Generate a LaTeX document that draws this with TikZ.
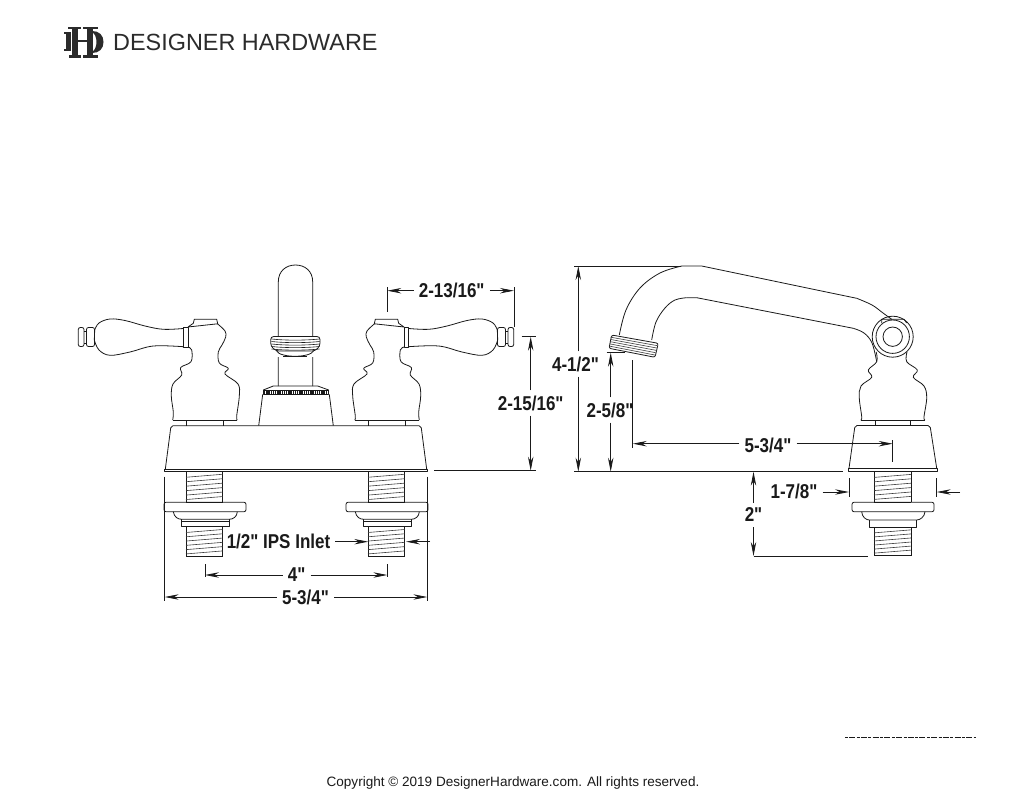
\documentclass[tikz,border=0pt]{standalone}
\usepackage{fontspec}
\setmainfont[Ligatures=TeXOff]{Liberation Sans}
\newfontfamily\dimfont[FakeStretch=0.85, Ligatures=TeXOff]{Liberation Sans}
\usepackage{tikz}
\usetikzlibrary{arrows.meta}

\definecolor{inkdark}{HTML}{1A1A1A}
\definecolor{logoink}{HTML}{2B2B2B}

\tikzset{
	partline/.style={draw=inkdark, line width=0.8pt, line join=round},
	threadline/.style={draw=inkdark!85, line width=0.6pt},
	dimlabel/.style={font=\fontsize{20}{22}\dimfont\bfseries, inner sep=0pt, text=inkdark}
}

% left and right pull handle, drawn where the left one stands
\newcommand{\leverhandle}{
	\draw [partline] plot [smooth, tension=0.6] coordinates {(217.7,324) (225,331) (225.7,337) (222,345) (218.3,352) (219.3,363) (228.3,368.3) (225,374) (238,384) (239.3,396) (236.7,416) (237.3,420)};
	\draw [partline] plot [smooth, tension=0.6] coordinates {(172.7,420) (173.3,412) (171.3,396) (173,384) (181.7,375) (180.7,367.5) (191,361.7) (191.7,350) (188,347)};
	\draw [partline] (188,327) -- (193.3,323.3) -- (194.3,319.3) -- (216.7,319.3) -- (217.7,323.8) -- cycle;
	\draw [partline] (172.7,420) -- (237.3,420);
	\draw [partline] (186.7,420) -- (186.7,425.7) (223.3,420) -- (223.3,425.7);
	\draw [partline] (183.3,327) rectangle (188,347.3);
	\draw [partline] plot [smooth, tension=0.6] coordinates {(183.3,328.5) (163.3,329.3) (145,326) (125,320.5) (110,319) (99,323) (94.7,330)};
	\draw [partline] plot [smooth, tension=0.6] coordinates {(94.3,340) (99,350) (110,355.3) (130,352) (153.3,346) (183.3,346.7)};
	\draw [partline] (94.7,330) -- (94.3,340);
	\draw [partline, rounded corners=2pt] (86.5,327.5) rectangle (94.5,346.5);
	\draw [partline, rounded corners=2pt] (78.3,327.5) rectangle (84,346.5);
	\draw [partline] (84,331) -- (86.5,331) (84,343) -- (86.5,343);
}

% threaded shank: left, top, right, bottom
\newcommand{\threadbox}[4]{
	\draw [partline] (#1,#2) -- (#1,#4) (#3,#2) -- (#3,#4) (#1,#2) -- (#3,#2) (#1,#4) -- (#3,#4);
	\pgfmathsetmacro{\threadgap}{(#4-#2)/7}
	\foreach \k in {1,...,6}
		\draw [threadline] (#1,{#2+\k*\threadgap+1.5}) -- (#3,{#2+\k*\threadgap-1.5});
}

% flange and lower shank under the deck
\newcommand{\inletset}[1]{
	\begin{scope}[xshift=#1pt]
		\threadbox{186}{471.3}{222.7}{502.5}
		\threadbox{186}{526.7}{222.7}{556.7}
		\draw [partline, rounded corners=2pt] (164,502.3) rectangle (246,511.7);
		\draw [partline] (173.3,511.7) .. controls (174,517) and (178,519.3) .. (181.7,519.3) -- (229,519.3) .. controls (233,519.3) and (237,517) .. (237.3,511.7);
		\draw [partline] (181.7,519.3) -- (181.7,526.7) -- (229,526.7) -- (229,519.3);
		\draw [partline] (181.7,521.8) -- (229,521.8);
	\end{scope}
}

\begin{document}
\begin{tikzpicture}[x=1pt, y=-1pt]
	\fill [white] (0,0) rectangle (1024,791);
	\useasboundingbox (0,0) rectangle (1024,791);

	% logo
	\begin{scope}[fill=logoink]
		\fill (72,27.5) rectangle (77.5,56.5);
		\fill (87,27.5) rectangle (92.5,56.5);
		\fill (68,27) rectangle (81,29.4);
		\fill (83,27) rectangle (98,29.4);
		\fill (68.5,55.3) rectangle (81,57.7);
		\fill (83,55.3) rectangle (98,57.7);
		\fill (72,39.8) rectangle (92,42.4);
		\fill (65.5,33) rectangle (70.5,50.5);
		\fill (64,32) rectangle (71,33.8);
		\fill (64,49.5) rectangle (71,51.2);
		\fill (92,31) .. controls (99,31) and (103.5,35) .. (103.5,42) .. controls (103.5,49) and (99,53) .. (92,53) -- (92,51.5) .. controls (94.5,51) and (96.5,47) .. (96.5,42) .. controls (96.5,37) and (94.5,33) .. (92,32.5) -- cycle;
	\end{scope}
	\node [anchor=west, inner sep=0pt, text=logoink, font=\fontsize{23.4}{25}\selectfont] (Brand) at (113,42.5) {DESIGNER HARDWARE};

	% front view
	\leverhandle
	\begin{scope}[xshift=592pt, xscale=-1]
		\leverhandle
	\end{scope}
	\draw [partline] (278.3,386) -- (278.3,282) .. controls (278.3,271) and (286,265) .. (295.5,265) .. controls (305,265) and (312.7,271) .. (312.7,282) -- (312.7,386);
	\fill [white] (271,335.5) rectangle (320,357);
	\draw [partline, rounded corners=3pt] (270.7,336.5) -- (270.7,346) -- (276,351) -- (315,351) -- (320,346) -- (320,336.5) -- cycle;
	\foreach \ringy in {339,341.5,344,346.5,349}
		\draw [partline, line width=0.6pt] (271.5,\ringy) .. controls (285,\ringy+1.5) and (305,\ringy+1.5) .. (319.5,\ringy);
	\draw [partline] (276.7,351) .. controls (280,358) and (310,358) .. (313.5,351);
	\draw [partline, line width=1.4pt] (283,356.7) -- (307,356.7);
	\draw [partline] (273.3,386) -- (317.7,386) (273.3,386) -- (263.3,390) (317.7,386) -- (328.7,390);
	\draw [partline] (263.3,390) rectangle (328.7,394.3);
	\draw [inkdark, line width=3.4pt, dash pattern=on 1.3pt off 0.9pt] (264,392.1) -- (328,392.1);
	\draw [partline] (262.7,394.3) -- (258.7,425.7);
	\draw [partline] (329.3,394.3) -- (333.3,425.7);
	\draw [partline, rounded corners=2pt] (165.3,469.3) -- (171,425.7) -- (421,425.7) -- (426.7,469.3);
	\draw [partline] (164.7,469.3) rectangle (427.3,471.3);
	\inletset{0}
	\inletset{182}

	% side view
	\draw [partline] plot [smooth, tension=0.6] coordinates {(619.3,335) (626,310) (640,288) (660,273) (681.7,266)};
	\draw [partline] (681.7,266) -- (701.7,266) -- (816.7,290) -- (856.7,298.3);
	\draw [partline] plot [smooth, tension=0.6] coordinates {(856.7,298.3) (872,305) (883,313) (891.7,319.3)};
	\draw [partline] plot [smooth, tension=0.6] coordinates {(651.7,340) (656,322) (665,308) (675,300) (686.7,297.7)};
	\draw [partline] (686.7,297.7) -- (696.7,297.7) -- (853.3,328.3);
	\draw [partline] plot [smooth, tension=0.6] coordinates {(853.3,328.3) (864,333) (872,343) (876.7,361.7)};
	\draw [partline, rounded corners=2pt] (611.7,335) -- (658.3,343.3) -- (655,357.3) -- (609,348.3) -- cycle;
	\foreach \aeratorstep in {1,2,3,4,5}
		\draw [threadline] ({611.2-0.45*\aeratorstep},{335+2.2*\aeratorstep}) -- ({657.8-0.55*\aeratorstep},{343.3+2.35*\aeratorstep});
	\draw [partline] (892.7,336.7) circle (9.7);
	\draw [partline] (892.7,336.7) circle (16.7);
	\draw [partline] (892.7,336.7) circle (20.5);
	\draw [partline] (881.7,323) -- (881.7,319.3) -- (904,319.3) -- (906.7,323);
	\draw [partline] plot [smooth, tension=0.6] coordinates {(876.2,352) (876.7,361.7) (868.3,370) (871.7,377.3) (861,386) (859.3,398) (861.7,416.7) (860.7,420)};
	\draw [partline] plot [smooth, tension=0.6] coordinates {(907,352) (906.7,361.7) (917.3,370) (913.3,377.3) (924,386) (926.7,398) (924,416.7) (925,420)};
	\draw [partline] (860.7,420) -- (925,420);
	\draw [partline] (875.7,420) -- (875.7,425.5) (910.7,420) -- (910.7,425.5);
	\draw [partline, rounded corners=2pt] (849,468.3) -- (855,425.5) -- (930,425.5) -- (936.7,468.3);
	\draw [partline] (848.7,468.3) rectangle (936.9,471.5);
	\threadbox{874}{471.5}{911}{502.3}
	\threadbox{874}{527.3}{911}{555.7}
	\draw [partline, rounded corners=2pt] (852,502.3) rectangle (934,511.7);
	\draw [partline] (861.7,511.7) .. controls (862,517) and (866,520) .. (869.3,520) -- (916.7,520) .. controls (920,520) and (924.5,517) .. (925,511.7);
	\draw [partline] (869.3,520) -- (869.3,527.3) -- (916,527.3) -- (916,520);

	% dimensions
	\node [dimlabel] (SpanHandle) at (451.7,290.7) {2-13/16"};
	\node [dimlabel] (HighFront) at (530.7,403) {2-15/16"};
	\node [dimlabel] (Inlet) at (278.5,541.7) {1/2" IPS Inlet};
	\node [dimlabel] (Centers) at (296.7,575) {4"};
	\node [dimlabel] (WidthFront) at (305.5,597) {5-3/4"};
	\node [dimlabel] (HighSide) at (575.5,364) {4-1/2"};
	\node [dimlabel] (Clear) at (610,410) {2-5/8"};
	\node [dimlabel] (Reach) at (768,445) {5-3/4"};
	\node [dimlabel] (DeckBase) at (794,491) {1-7/8"};
	\node [dimlabel] (Shank) at (753.5,515) {2"};

	\coordinate (SpanL) at (387.3,290.7);
	\coordinate (SpanR) at (514,290.7);
	\coordinate (FrontT) at (530.7,336.7);
	\coordinate (FrontB) at (530.7,470.7);
	\coordinate (InletL) at (368.3,541.7);
	\coordinate (InletR) at (406,541.7);
	\coordinate (InletEnd) at (435,541.7);
	\coordinate (CentersL) at (205,575);
	\coordinate (CentersR) at (387.3,575);
	\coordinate (WidthL) at (164.7,597);
	\coordinate (WidthR) at (427.3,597);
	\coordinate (SideT) at (578.3,266);
	\coordinate (SideB) at (578.3,471.7);
	\coordinate (ClearT) at (610.7,352.7);
	\coordinate (ClearB) at (610.7,471.7);
	\coordinate (ReachL) at (632.7,443.7);
	\coordinate (ReachR) at (892.7,443.7);
	\coordinate (BaseL) at (849,492);
	\coordinate (BaseR) at (936.7,492);
	\coordinate (BaseEnd) at (965,492);
	\coordinate (ShankT) at (753.5,471.7);
	\coordinate (ShankB) at (753.5,556);

	\begin{scope}[>={Stealth[inkdark, length=14pt, width=5.4pt]},
			every edge/.style={draw=inkdark, line width=0.8pt},
			shorten <=5pt]
		\path [->] (SpanHandle.west) edge (SpanL);
		\path [->] (SpanHandle.east) edge (SpanR);
		\path [->] (HighFront.north -| FrontT) edge (FrontT);
		\path [->] (HighFront.south -| FrontT) edge (FrontB);
		\path [->] (Inlet.east) edge (InletL);
		\path [->] (InletEnd) edge (InletR);
		\path [->] (Centers.west) edge (CentersL);
		\path [->] (Centers.east) edge (CentersR);
		\path [->] (WidthFront.west) edge (WidthL);
		\path [->] (WidthFront.east) edge (WidthR);
		\path [->] (HighSide.north -| SideT) edge (SideT);
		\path [->] (HighSide.south -| SideT) edge (SideB);
		\path [->] (Clear.north -| ClearT) edge (ClearT);
		\path [->] (Clear.south -| ClearT) edge (ClearB);
		\path [->] (Reach.west |- ReachL) edge (ReachL);
		\path [->] (Reach.east |- ReachR) edge (ReachR);
		\path [->] (DeckBase.east |- BaseL) edge (BaseL);
		\path [->] (BaseEnd) edge (BaseR);
		\path [->] (Shank.north) edge (ShankT);
		\path [->] (Shank.south) edge (ShankB);
	\end{scope}

	% extension lines
	\begin{scope}[every path/.style={draw=inkdark, line width=0.7pt}]
		\path (387.3,287.3) -- (387.3,311.7);
		\path (514,287.3) -- (514,326.7);
		\path (521.7,336.7) -- (535.7,336.7);
		\path (434.3,470.7) -- (535.7,470.7);
		\path (205,564) -- (205,577.3);
		\path (387.3,564) -- (387.3,577.3);
		\path (164.7,476.7) -- (164.7,600.7);
		\path (427.3,476.7) -- (427.3,600.7);
		\path (574,266) -- (681,266);
		\path (574,471.7) -- (843.3,471.7);
		\path (606.7,352.7) -- (625,352.7);
		\path (632.7,360) -- (632.7,447.7);
		\path (892.7,440) -- (892.7,461.7);
		\path (849,478) -- (849,497);
		\path (936.7,478) -- (936.7,497);
		\path (753.5,556) -- (868.3,556);
	\end{scope}

	\draw [inkdark, line width=1.1pt, dash pattern=on 3pt off 1.2pt on 6pt off 1.5pt] (845,737.5) -- (976,737.5);
	\node [inner sep=0pt, text=inkdark, font=\fontsize{13.55}{16}\selectfont] (Rights) at (513,783) {Copyright © 2019 DesignerHardware.com. All rights reserved.};
\end{tikzpicture}
\end{document}
